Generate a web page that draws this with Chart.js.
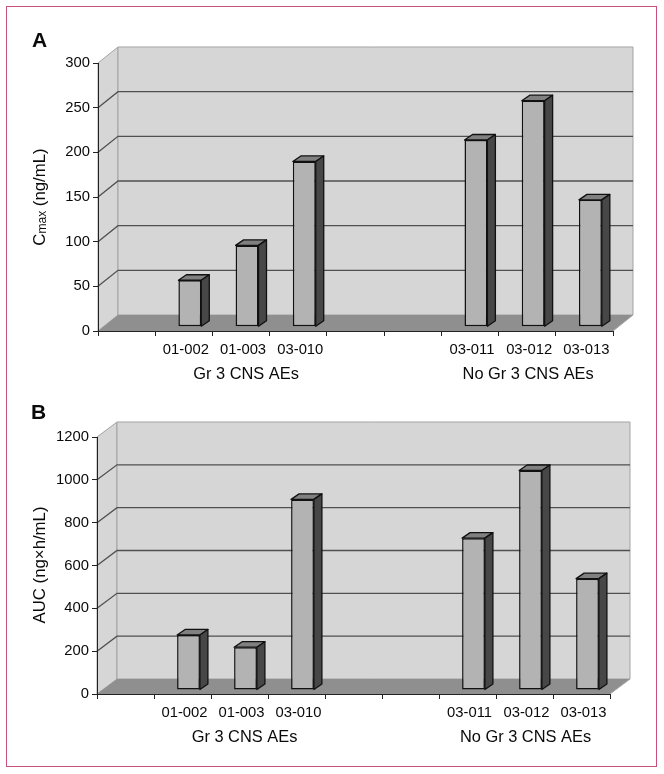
<!DOCTYPE html>
<html>
<head>
<meta charset="utf-8">
<title>Cmax and AUC by patient</title>
<script src="https://cdn.jsdelivr.net/npm/chart.js@4"></script>
<style>
    html, body { margin: 0; padding: 0; background: #fff; }
    #frame { position: absolute; left: 6px; top: 6px; width: 649px; height: 759px; border: 1.5px solid #c9507c; }
    canvas { position: absolute; left: 0; }
    #chartA { top: 0; }
    #chartB { top: 390px; }
</style>
</head>
<body>
<div id="frame"></div>
<canvas id="chartA" width="664" height="390"></canvas>
<canvas id="chartB" width="664" height="384"></canvas>
<script>
// Data (blank slots are the gaps in the category axis)
const categories = ['', '01-002', '01-003', '03-010', '', '', '03-011', '03-012', '03-013'];
const cmaxValues = [null, 52, 91, 185, null, null, 209, 253, 142];
const aucValues = [null, 257, 200, 890, null, null, 709, 1025, 520];
const groupLabels = ['Gr 3 CNS AEs', 'No Gr 3 CNS AEs'];
const groupCenters = [2, 7];
const cmaxTicks = { max: 300, step: 50 };
const aucTicks = { max: 1200, step: 200 };

const FONT = '"Liberation Sans", Arial, sans-serif';
const WALL = '#d6d6d6';
const FLOOR = '#8f8f8f';
const EDGE = '#a3a3a3';
const GRID = '#505050';
const INK = '#0a0a0a';

function poly(ctx, points, fill, stroke, width) {
    ctx.beginPath();
    points.forEach(([x, y], i) => i ? ctx.lineTo(x, y) : ctx.moveTo(x, y));
    ctx.closePath();
    if (fill) { ctx.fillStyle = fill; ctx.fill(); }
    if (stroke) { ctx.strokeStyle = stroke; ctx.lineWidth = width || 1; ctx.stroke(); }
}

// Walls, floor and gridlines of the fake 3D box
const box3d = {
    id: 'box3d',
    beforeDraw(chart, args, opts) {
        const { ctx, chartArea: { left, right, top, bottom }, scales: { y } } = chart;
        const dx = opts.depthX, dy = opts.depthY;
        ctx.save();
        poly(ctx, [[left, top], [left + dx, top + dy], [left + dx, bottom + dy], [left, bottom]], WALL, EDGE);
        poly(ctx, [[left + dx, top + dy], [right + dx, top + dy], [right + dx, bottom + dy], [left + dx, bottom + dy]], WALL, EDGE);
        poly(ctx, [[left, bottom], [left + dx, bottom + dy], [right + dx, bottom + dy], [right, bottom]], FLOOR);
        ctx.strokeStyle = EDGE;
        ctx.beginPath();
        ctx.moveTo(right, bottom);
        ctx.lineTo(right + dx, bottom + dy);
        ctx.stroke();

        ctx.strokeStyle = GRID;
        ctx.lineWidth = 1.3;
        y.ticks.forEach(t => {
            if (t.value === 0 || t.value === y.max) return;
            const py = y.getPixelForValue(t.value);
            ctx.beginPath();
            ctx.moveTo(left, py);
            ctx.lineTo(left + dx, py + dy);
            ctx.lineTo(right + dx, py + dy);
            ctx.stroke();
        });
        ctx.restore();
    },
    // bars stand mid-way into the box
    beforeDatasetsDraw(chart, args, opts) {
        chart.ctx.save();
        chart.ctx.translate(opts.barX, opts.barY);
    },
    afterDatasetsDraw(chart, args, opts) {
        const ctx = chart.ctx;
        const sx = opts.barDepthX, sy = opts.barDepthY;
        const values = chart.data.datasets[0].data;
        chart.getDatasetMeta(0).data.forEach((bar, i) => {
            if (values[i] == null) return;
            const { x, y, base, width } = bar.getProps(['x', 'y', 'base', 'width'], true);
            const l = x - width / 2, r = x + width / 2;
            ctx.lineJoin = 'round';
            poly(ctx, [[l, y], [l + sx, y + sy], [r + sx, y + sy], [r, y]], '#808080', '#111', 1.3);
            poly(ctx, [[r, y], [r + sx, y + sy], [r + sx, base + sy], [r, base]], '#474747', '#111', 1.3);
        });
        ctx.restore();
    },
    afterDraw(chart, args, opts) {
        const { ctx, scales: { x } } = chart;
        ctx.save();
        ctx.fillStyle = INK;
        ctx.textBaseline = 'middle';

        // panel letter
        ctx.font = 'bold 21px ' + FONT;
        ctx.textAlign = 'left';
        ctx.fillText(opts.letter, opts.letterX, opts.letterY);

        // group names under the tick labels
        ctx.font = '16.4px ' + FONT;
        ctx.textAlign = 'center';
        groupLabels.forEach((g, i) => {
            ctx.fillText(g, x.getPixelForValue(groupCenters[i]) + opts.groupShift[i], opts.groupY);
        });

        // y axis title, may carry a subscript part
        ctx.translate(opts.titleX, opts.titleY);
        ctx.rotate(-Math.PI / 2);
        ctx.textAlign = 'left';
        const sizes = opts.title.map(p => p.sub ? 12 : 16.8);
        let total = 0;
        opts.title.forEach((p, i) => {
            ctx.font = sizes[i] + 'px ' + FONT;
            total += ctx.measureText(p.text).width;
        });
        let pos = -total / 2;
        opts.title.forEach((p, i) => {
            ctx.font = sizes[i] + 'px ' + FONT;
            ctx.fillText(p.text, pos, p.sub ? 3 : 0);
            pos += ctx.measureText(p.text).width;
        });
        ctx.restore();
    }
};

function makeChart(id, values, ticks, geo) {
    return new Chart(document.getElementById(id), {
        type: 'bar',
        data: {
            labels: categories,
            datasets: [{
                data: values,
                backgroundColor: '#b3b3b3',
                borderColor: '#111',
                borderWidth: 1.5,
                borderSkipped: false,
                categoryPercentage: 1,
                barPercentage: 0.4
            }]
        },
        options: {
            responsive: false,
            animation: false,
            events: [],
            layout: { padding: { left: 0, top: geo.top, right: geo.right, bottom: 0 } },
            plugins: {
                legend: { display: false },
                tooltip: { enabled: false },
                box3d: geo.box
            },
            scales: {
                x: {
                    afterFit: s => { s.height = geo.xHeight; },
                    border: { display: true, color: '#222', width: 1 },
                    grid: { drawOnChartArea: false, drawTicks: true, tickLength: 5, color: '#222' },
                    ticks: {
                        autoSkip: false,
                        maxRotation: 0,
                        labelOffset: 2,
                        padding: 5,
                        color: INK,
                        font: { family: FONT, size: 14.8 }
                    }
                },
                y: {
                    min: 0,
                    max: ticks.max,
                    afterFit: s => { s.width = geo.yWidth; },
                    border: { display: true, color: '#222', width: 1 },
                    grid: { drawOnChartArea: false, drawTicks: true, tickLength: 5, color: '#222' },
                    ticks: {
                        stepSize: ticks.step,
                        padding: 3,
                        color: INK,
                        font: { family: FONT, size: 14.8 },
                        callback: v => String(v)
                    }
                }
            }
        },
        plugins: [box3d]
    });
}

makeChart('chartA', cmaxValues, cmaxTicks, {
    top: 63, right: 51, xHeight: 59, yWidth: 98,
    box: {
        depthX: 20, depthY: -16, barX: 6, barY: -4.3, barDepthX: 8, barDepthY: -5.5,
        letter: 'A', letterX: 32, letterY: 41, groupY: 374, groupShift: [5, 1],
        titleX: 40, titleY: 197,
        title: [{ text: 'C' }, { text: 'max', sub: true }, { text: ' (ng/mL)' }]
    }
});

makeChart('chartB', aucValues, aucTicks, {
    top: 47, right: 54, xHeight: 80, yWidth: 97,
    box: {
        depthX: 20, depthY: -15, barX: 6, barY: -4, barDepthX: 8, barDepthY: -5.5,
        letter: 'B', letterX: 31, letterY: 23, groupY: 347.5, groupShift: [5, 1],
        titleX: 40, titleY: 175,
        title: [{ text: 'AUC (ng×h/mL)' }]
    }
});
</script>
</body>
</html>
